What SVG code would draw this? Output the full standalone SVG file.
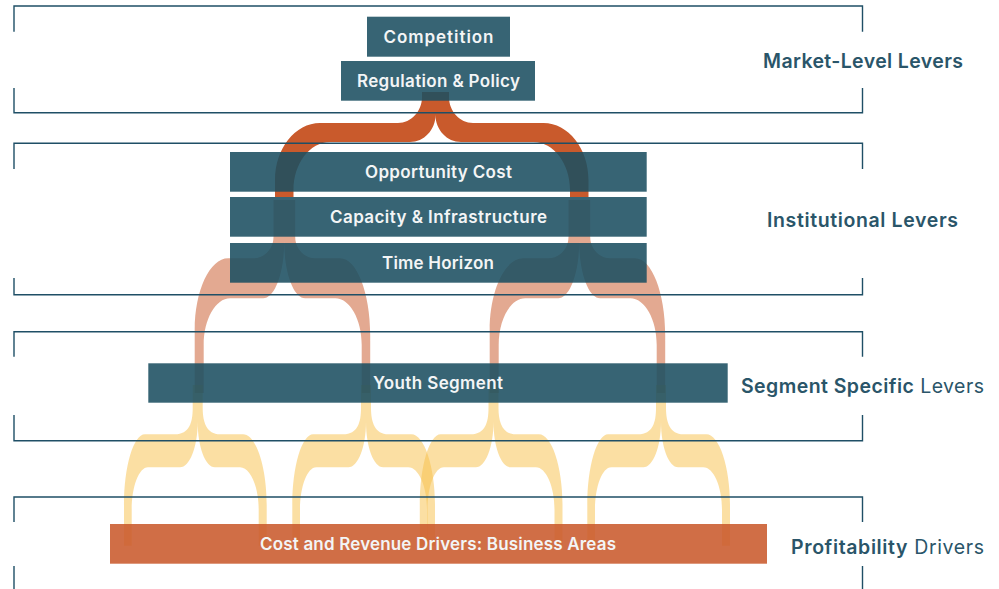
<svg xmlns="http://www.w3.org/2000/svg" xmlns:xlink="http://www.w3.org/1999/xlink" width="999" height="589" viewBox="0 0 999 589">
  <style>
    .frame { fill: none; stroke: #1F4F66; stroke-width: 1.4; }
    .box { fill: #1B4F61; fill-opacity: 0.88; }
    .box-drv { fill: #C95A2C; fill-opacity: 0.88; }
    .lbl { font-family: Inter, Roboto, "Liberation Sans", sans-serif; font-weight: 600; font-size: 17px; fill: #F3F5F6; text-anchor: middle; }
    .tier { font-family: Inter, Roboto, "Liberation Sans", sans-serif; font-size: 19.5px; fill: #2A5569; }
    .b { font-weight: 600; }
    .r { font-weight: 400; }
    .lvl1 { fill: #C95A2C; }
    .lvl2 { fill: #C95A2C; fill-opacity: 0.52; }
    .lvl3 { fill: #F7BF47; fill-opacity: 0.5; }
  </style>
  <defs>
    <!-- second-level split, drawn around x = 0 -->
    <path id="brace2" d="M0,200 L-10.7,200 L-10.7,237 C-10.7,248.7 -19.8,258.3 -31,258.3 L-56,258.3 C-74.4,258.3 -89.5,290.6 -89.5,330 L-89.5,393 L-80.5,393 L-80.5,345 C-80.5,319.3 -68.6,298.3 -54,298.3 L-21,298.3 C-9.5,298.3 0,273 0,242 Z M0,200 L11,200 L11,237 C11,248.7 20.3,258.3 31,258.3 L56,258.3 C72.5,258.3 86,293 86,335 L86,393 L77.5,393 L77.5,345 C77.5,319.3 65.6,298.3 51,298.3 L21,298.3 C9.5,298.3 0,273 0,242 Z"/>
    <!-- third-level split, drawn around x = 0 -->
    <path id="brace3" d="M0,385 L-5,385 L-5,408 C-5,422.3 -8.3,434.3 -22.7,434.3 L-52.7,434.3 C-64.3,434.3 -73.7,466.5 -73.7,505 L-73.7,545.7 L-66,545.7 L-66,510 C-66,486.5 -58.7,467.3 -49.7,467.3 L-17.7,467.3 C-8,467.3 0,446.8 0,421.7 Z M0,385 L5,385 L5,408 C5,422.3 9,434.3 22.3,434.3 L45.3,434.3 C58.3,434.3 69,466.5 69,505 L69,545.7 L61,545.7 L61,510 C61,486.5 52.6,467.3 42.3,467.3 L17.3,467.3 C7.8,467.3 0,446.8 0,421.7 Z"/>
  </defs>

  <g id="connectors">
    <path class="lvl1" d="M435.5,92 L422,92 L422,97 C422,111.3 411.2,123 398,123 L320,123 C295.2,123 275,148.6 275,180 L275,197 L293.5,197 L293.5,190 C293.5,163.6 309.9,142 330,142 L410,142 C424,142 435.5,129.9 435.5,115 Z M435.5,92 L449,92 L449,97 C449,111.3 459.8,123 473,123 L543.5,123 C568.3,123 588.5,148.6 588.5,180 L588.5,197 L570,197 L570,190 C570,163.6 553.6,142 533.5,142 L461,142 C447,142 435.5,129.9 435.5,115 Z"/>
    <use xlink:href="#brace2" class="lvl2" transform="translate(284.2,0)"/>
    <use xlink:href="#brace2" class="lvl2" transform="translate(579.2,0)"/>
    <use xlink:href="#brace3" class="lvl3" transform="translate(197.7,0)"/>
    <use xlink:href="#brace3" class="lvl3" transform="translate(366,0)"/>
    <use xlink:href="#brace3" class="lvl3" transform="translate(493.5,0)"/>
    <use xlink:href="#brace3" class="lvl3" transform="translate(661,0)"/>
  </g>

  <g id="tiers">
    <g id="tier-market">
      <path class="frame" d="M14,31.7 V6 H862.5 V31.7 M14,88 V112.7 H862.5 V88"/>
      <text class="tier b" x="763" y="67.5" textLength="200" lengthAdjust="spacing">Market-Level Levers</text>
    </g>
    <g id="tier-institutional">
      <path class="frame" d="M14,169 V143.3 H862.5 V169 M14,278 V294.7 H862.5 V278"/>
      <text class="tier b" x="767" y="226.5" textLength="191" lengthAdjust="spacing">Institutional Levers</text>
    </g>
    <g id="tier-segment">
      <path class="frame" d="M14,356.7 V331.7 H862.5 V356.7 M14,415 V440.7 H862.5 V415"/>
      <text class="tier" x="741" y="392.5" textLength="243" lengthAdjust="spacing"><tspan class="b">Segment Specific</tspan><tspan class="r"> Levers</tspan></text>
    </g>
    <g id="tier-profitability">
      <path class="frame" d="M14,522 V497 H862.5 V522 M14,566 V600 M862.5,566 V600"/>
      <text class="tier" x="791" y="553.5" textLength="193" lengthAdjust="spacing"><tspan class="b">Profitability</tspan><tspan class="r"> Drivers</tspan></text>
    </g>
  </g>

  <g id="competition">
    <rect class="box" x="367" y="16.7" width="143" height="40"/>
    <text class="lbl" x="438.5" y="42.7" textLength="110" lengthAdjust="spacing">Competition</text>
  </g>
  <g id="regulation-policy">
    <rect class="box" x="341" y="61" width="194" height="39.7"/>
    <text class="lbl" x="438.5" y="86.9" textLength="163" lengthAdjust="spacing">Regulation &amp; Policy</text>
  </g>
  <g id="opportunity-cost">
    <rect class="box" x="230" y="152" width="416.7" height="39.7"/>
    <text class="lbl" x="438.5" y="177.9" textLength="147" lengthAdjust="spacing">Opportunity Cost</text>
  </g>
  <g id="capacity-infrastructure">
    <rect class="box" x="230" y="197" width="416.7" height="39.7"/>
    <text class="lbl" x="438.5" y="222.9" textLength="217" lengthAdjust="spacing">Capacity &amp; Infrastructure</text>
  </g>
  <g id="time-horizon">
    <rect class="box" x="230" y="243" width="416.7" height="39.7"/>
    <text class="lbl" x="438" y="268.9" textLength="112" lengthAdjust="spacing">Time Horizon</text>
  </g>
  <g id="youth-segment">
    <rect class="box" x="148.3" y="363.3" width="579.4" height="39.4"/>
    <text class="lbl" x="438" y="389.2" textLength="130" lengthAdjust="spacing">Youth Segment</text>
  </g>
  <g id="business-areas">
    <rect class="box-drv" x="110" y="524" width="657" height="39.7"/>
    <text class="lbl" x="438" y="549.9" textLength="356" lengthAdjust="spacing">Cost and Revenue Drivers: Business Areas</text>
  </g>
</svg>
